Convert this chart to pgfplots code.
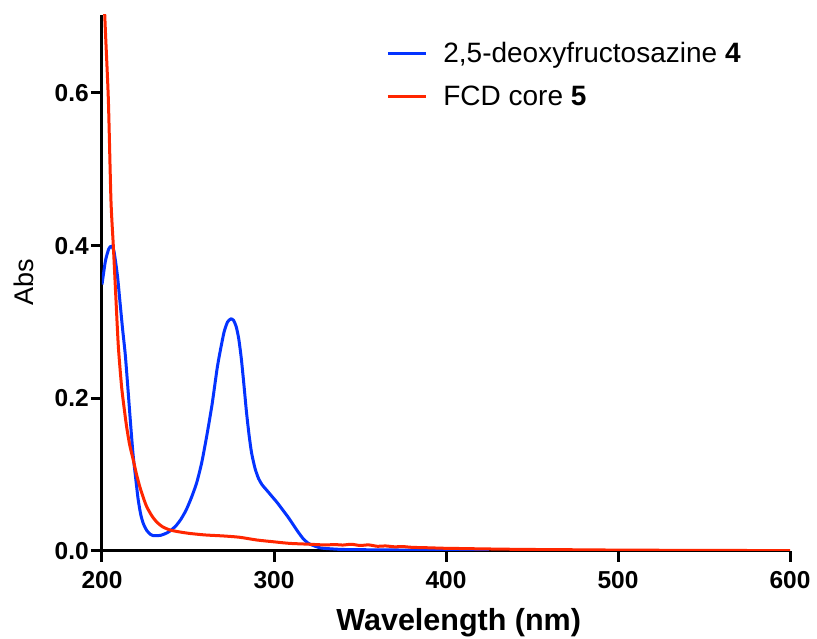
\documentclass[border=0pt]{standalone}
\usepackage{fontspec}
\setmainfont{Liberation Sans}
\usepackage{pgfplots}
\pgfplotsset{compat=1.18}
\definecolor{cblue}{RGB}{4,51,255}
\definecolor{cred}{RGB}{255,38,0}
\begin{document}
\begin{tikzpicture}[x=1pt,y=1pt]
\useasboundingbox (0,0) rectangle (817,639);
\begin{axis}[
  at={(102pt,88pt)}, anchor=south west,
  scale only axis, width=688pt, height=536pt,
  xmin=200, xmax=600, ymin=0, ymax=0.702,
  axis x line*=bottom, axis y line*=left,
  axis line style={line width=3pt, -},
  xtick={200,300,400,500,600}, ytick={0,0.2,0.4,0.6},
  tick style={line width=3pt, black},
  tick align=outside, major tick length=11pt,
  /pgf/number format/assume math mode=true,
  yticklabel style={/pgf/number format/fixed, /pgf/number format/fixed zerofill, /pgf/number format/precision=1},
  ticklabel style={font=\fontsize{24.5}{30}\selectfont\bfseries},
  xticklabel style={anchor=north, inner sep=0pt, yshift=-9pt},
  yticklabel style={anchor=east, inner sep=0pt, xshift=-2pt},
  xlabel={Wavelength (nm)}, ylabel={Abs},
  xlabel style={font=\fontsize{30.5}{36}\selectfont\bfseries, at={(axis description cs:0.5185,-0.148)}, anchor=base, inner sep=0pt},
  ylabel style={font=\fontsize{27}{32}\selectfont, at={(axis description cs:-0.099,0.502)}, anchor=base, inner sep=0pt},
  legend style={at={(axis description cs:0.413,0.953)}, anchor=north west, draw=none, fill=none,
    font=\fontsize{28}{33}\selectfont, inner sep=0pt, row sep=18pt, column sep=14pt,
    nodes={inner sep=2pt}, cells={anchor=west}},
  legend image code/.code={\draw[#1, line width=3pt] (0pt,0pt) -- (38pt,0pt);},
  legend cell align=left,
]
\addplot[cblue, line width=3pt, smooth, tension=0.4] coordinates {
(200,0.349) (202,0.380) (204,0.396) (205.5,0.399) (207,0.392) (209,0.360)
(210.5,0.325) (212,0.290) (213.5,0.258) (215,0.215) (216.5,0.170) (218,0.128)
(219.5,0.097) (221,0.068) (222.5,0.048) (224,0.036) (226,0.027) (228,0.022)
(230,0.020) (232,0.020) (234,0.0205) (236,0.022) (238,0.024) (240,0.027)
(243,0.033) (246,0.042) (249,0.054) (252,0.070) (255,0.089) (258,0.116)
(261,0.152) (264,0.192) (267,0.240) (269,0.265) (271,0.287) (273,0.300)
(275,0.304) (276.5,0.302) (278,0.294) (279.5,0.278) (281,0.252) (282.5,0.218)
(284,0.182) (285.5,0.152) (287,0.128) (289,0.108) (291,0.095) (293,0.087)
(296,0.079) (299,0.071) (302,0.063) (305,0.054) (308,0.045) (311,0.035)
(314,0.025) (317,0.016) (320,0.010) (323,0.007) (327,0.004) (332,0.003)
(340,0.002) (360,0.0015) (380,0.0012) (400,0.001) (425,0.0008)
};
\addlegendentry{2,5-deoxyfructosazine \textbf{4}}
\addplot[cred, line width=3pt, smooth, tension=0.4] coordinates {
(200,0.79) (202,0.68) (203.7,0.591) (205.2,0.46) (206.6,0.399) (208,0.335)
(209.5,0.268) (211.4,0.215) (213,0.185) (214.3,0.163) (216,0.14) (218.2,0.119)
(220,0.101) (222,0.084) (224,0.07) (226,0.058) (229,0.046) (231.8,0.038)
(235,0.032) (239.5,0.0275) (245,0.025) (251,0.023) (260,0.021) (270.5,0.0197)
(280,0.018) (290,0.0144) (300,0.012) (309,0.010) (320,0.0089) (330,0.0079)
(335,0.0085) (340,0.0078) (345,0.0088) (350,0.0072) (355,0.0080) (360,0.0062)
(365,0.0066) (370,0.0055) (375,0.0058) (380,0.0048) (390,0.0042) (400,0.0035)
(410,0.0032) (420,0.0028) (430,0.0025) (440,0.0022) (450,0.002) (460,0.0018)
(470,0.0017) (480,0.0015) (500,0.0012) (520,0.001) (540,0.0009) (560,0.0008)
(580,0.0006) (600,0.0005)
};
\addlegendentry{FCD core \textbf{5}}
\end{axis}
\end{tikzpicture}
\end{document}
